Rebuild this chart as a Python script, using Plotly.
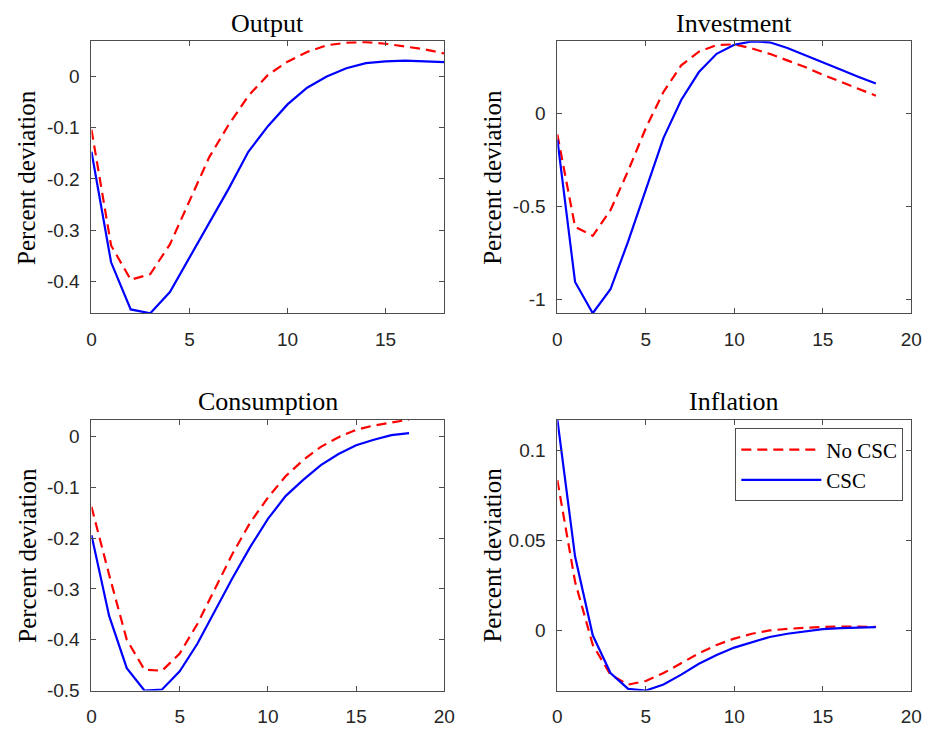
import plotly.graph_objects as go

W, H = 935, 736

periods = list(range(19))

output_nocsc = [-0.104, -0.33, -0.397, -0.386, -0.328, -0.242, -0.158, -0.094, -0.038, 0.003,
                0.029, 0.048, 0.061, 0.066, 0.0673, 0.064, 0.058, 0.053, 0.045]
output_csc = [-0.147, -0.363, -0.455, -0.4625, -0.421, -0.354, -0.285, -0.219, -0.147, -0.097,
              -0.0545, -0.022, 0.0, 0.016, 0.026, 0.0296, 0.031, 0.030, 0.028]

invest_nocsc = [-0.115, -0.611, -0.66, -0.522, -0.31, -0.08, 0.115, 0.257, 0.331, 0.366,
                0.370, 0.348, 0.319, 0.283, 0.248, 0.207, 0.168, 0.133, 0.094]
invest_csc = [-0.142, -0.908, -1.076, -0.947, -0.69, -0.416, -0.133, 0.071, 0.221, 0.319,
              0.368, 0.386, 0.381, 0.350, 0.313, 0.274, 0.235, 0.196, 0.159]

cons_nocsc = [-0.138, -0.272, -0.40, -0.459, -0.461, -0.427, -0.369, -0.298, -0.23, -0.169,
              -0.12, -0.078, -0.046, -0.02, -0.001, 0.0136, 0.022, 0.028, 0.0336]
cons_csc = [-0.194, -0.353, -0.456, -0.5, -0.498, -0.462, -0.408, -0.343, -0.278, -0.217,
            -0.162, -0.117, -0.085, -0.056, -0.034, -0.017, -0.006, 0.003, 0.007]

infl_nocsc = [0.0833, 0.027, -0.008, -0.0245, -0.030, -0.028, -0.0236, -0.018, -0.0127, -0.008,
              -0.0045, -0.0018, 0.0, 0.0009, 0.0016, 0.002, 0.0022, 0.0022, 0.002]
infl_csc = [0.1169, 0.041, -0.0027, -0.0236, -0.0324, -0.0333, -0.030, -0.0245, -0.0185, -0.0136,
            -0.0095, -0.0064, -0.0036, -0.0018, -0.0004, 0.0007, 0.0013, 0.0016, 0.0018]

titles = ["Output", "Investment", "Consumption", "Inflation"]

xticks_top = [0, 5, 10, 15]
xticks_full = [0, 5, 10, 15, 20]

yticks_output = [0, -0.1, -0.2, -0.3, -0.4]
ylabels_output = ["0", "-0.1", "-0.2", "-0.3", "-0.4"]
yticks_invest = [0, -0.5, -1]
ylabels_invest = ["0", "-0.5", "-1"]
yticks_cons = [0, -0.1, -0.2, -0.3, -0.4, -0.5]
ylabels_cons = ["0", "-0.1", "-0.2", "-0.3", "-0.4", "-0.5"]
yticks_infl = [0.1, 0.05, 0]
ylabels_infl = ["0.1", "0.05", "0"]

panels = [
    # (no csc, csc, x range, x ticks, y range, y ticks, y labels, pixel box l, r, t, b)
    (output_nocsc, output_csc, [0, 18], xticks_top, [-0.4625, 0.0686], yticks_output, ylabels_output, 88, 447, 42, 318),
    (invest_nocsc, invest_csc, [0, 20], xticks_full, [-1.076, 0.386], yticks_invest, ylabels_invest, 562, 922, 42, 318),
    (cons_nocsc, cons_csc, [0, 20], xticks_full, [-0.5, 0.0336], yticks_cons, ylabels_cons, 88, 447, 426, 701),
    (infl_nocsc, infl_csc, [0, 20], xticks_full, [-0.0333, 0.1169], yticks_infl, ylabels_infl, 562, 922, 426, 701),
]

RED = "#ff0000"
BLUE = "#0000ff"
AXCOL = "#4d4d4d"
TICKFONT = dict(family="Liberation Sans, Arial, sans-serif", size=19, color="#262626")
SERIF = "Liberation Serif, Times New Roman, serif"

fig = go.Figure()
annotations = []

for i, (nocsc, csc, xr, xt, yr, yt, yl, l, r, t, b) in enumerate(panels):
    n = "" if i == 0 else str(i + 1)
    fig.add_trace(go.Scatter(x=periods, y=nocsc, mode="lines", name="No CSC",
                             line=dict(color=RED, width=2.2, dash="10px,6px"),
                             xaxis="x" + n, yaxis="y" + n, showlegend=(i == 3)))
    fig.add_trace(go.Scatter(x=periods, y=csc, mode="lines", name="CSC",
                             line=dict(color=BLUE, width=2.2),
                             xaxis="x" + n, yaxis="y" + n, showlegend=(i == 3)))
    fig.update_layout(**{
        "xaxis" + n: dict(domain=[l / W, r / W], range=xr, tickvals=xt, ticks="inside",
                          ticklen=5, tickcolor=AXCOL, showline=True, linecolor=AXCOL,
                          linewidth=1, mirror="ticks", showgrid=False, zeroline=False,
                          tickfont=TICKFONT, ticklabelstandoff=9,
                          anchor="y" + n, fixedrange=True),
        "yaxis" + n: dict(domain=[1 - b / H, 1 - t / H], range=yr, tickvals=yt, ticktext=yl,
                          ticks="inside", ticklen=5, tickcolor=AXCOL, showline=True,
                          linecolor=AXCOL, linewidth=1, mirror="ticks", showgrid=False,
                          zeroline=False, tickfont=TICKFONT, ticklabelstandoff=7,
                          anchor="x" + n, fixedrange=True),
    })
    annotations.append(dict(text=titles[i], x=(l + r) / 2 / W, y=1 - (t - 18) / H,
                            xref="paper", yref="paper", showarrow=False,
                            font=dict(family=SERIF, size=26, color="#000000"),
                            xanchor="center", yanchor="middle"))
    annotations.append(dict(text="Percent deviation", x=(l - 66) / W, y=1 - (t + b) / 2 / H,
                            xref="paper", yref="paper", showarrow=False, textangle=-90,
                            font=dict(family=SERIF, size=25, color="#000000"),
                            xanchor="center", yanchor="middle"))

fig.update_layout(
    autosize=True,
    margin=dict(l=0, r=0, t=0, b=0),
    paper_bgcolor="white", plot_bgcolor="white",
    annotations=annotations,
    legend=dict(x=743 / W, y=1 - 435 / H, xanchor="left", yanchor="top",
                bgcolor="white", bordercolor=AXCOL, borderwidth=1,
                font=dict(family=SERIF, size=21, color="#000000"),
                itemwidth=80, tracegroupgap=4),
)

# fill the whole window and drop the page's default body margin
fig.write_html("out.html", default_width="100vw", default_height="100vh",
               config={"displayModeBar": False, "responsive": True},
               post_script="document.body.style.margin='0';document.body.style.overflow='hidden';")
